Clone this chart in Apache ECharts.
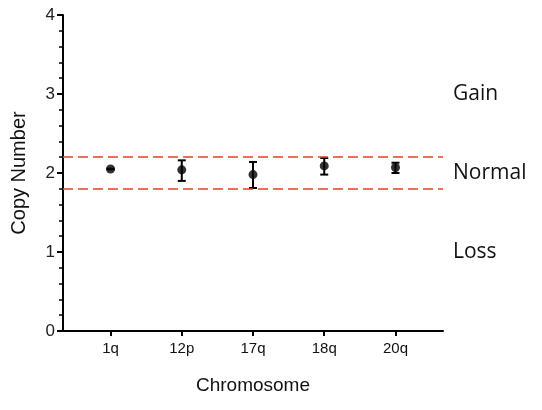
<!DOCTYPE html>
<html>
<head>
<meta charset="UTF-8">
<title>Copy Number</title>
<style>
  html, body { margin: 0; padding: 0; background: #fff; }
  #chart { width: 542px; height: 410px; }
</style>
</head>
<body>
<div id="chart"></div>
<script src="https://cdn.jsdelivr.net/npm/echarts/dist/echarts.min.js"></script>
<script>
var categories = ['1q', '12p', '17q', '18q', '20q'];
var means = [2.05, 2.04, 1.98, 2.09, 2.07];
var lowers = [2.045, 1.90, 1.81, 1.98, 2.00];
var uppers = [2.055, 2.16, 2.14, 2.19, 2.13];
var thresholds = [2.2, 1.8];
var zoneLabels = { 1: 'Loss', 2: 'Normal', 3: 'Gain' };
var catIndex = [0, 1, 2, 3, 4];

var chart = echarts.init(document.getElementById('chart'));

var pts = means.map(function (v, i) { return [i, v]; });
var bars = means.map(function (v, i) { return [i, lowers[i], uppers[i]]; });

var option = {
  animation: false,
  grid: { left: 63, right: 99, top: 15, bottom: 79 },
  xAxis: {
    type: 'value',
    min: -0.667,
    max: 4.667,
    name: 'Chromosome',
    nameLocation: 'middle',
    nameGap: 45,
    nameTextStyle: { fontFamily: 'Liberation Sans', fontSize: 19, color: '#111' },
    splitLine: { show: false },
    axisLine: { onZero: false, lineStyle: { color: '#000', width: 2 } },
    axisTick: { customValues: catIndex, length: 5, lineStyle: { color: '#000', width: 2 } },
    axisLabel: {
      customValues: catIndex,
      formatter: function (v) { return categories[Math.round(v)]; },
      fontFamily: 'Liberation Sans', fontSize: 15, color: '#111', margin: 10
    }
  },
  yAxis: [{
    type: 'value',
    min: 0, max: 4, interval: 1,
    name: 'Copy Number',
    nameLocation: 'middle',
    nameGap: 34,
    nameRotate: 90,
    nameTextStyle: { fontFamily: 'Liberation Sans', fontSize: 20, color: '#111' },
    splitLine: { show: false },
    axisLine: { show: true, onZero: false, lineStyle: { color: '#000', width: 2 } },
    axisTick: { length: 6, lineStyle: { color: '#000', width: 2 } },
    minorTick: { show: true, splitNumber: 5, length: 4, lineStyle: { color: '#000', width: 1.5 } },
    axisLabel: { fontFamily: 'Liberation Sans', fontSize: 17, color: '#222', margin: 8 }
  }, {
    type: 'value',
    position: 'right',
    min: 0, max: 4, interval: 1,
    splitLine: { show: false },
    axisLine: { show: false },
    axisTick: { show: false },
    axisLabel: {
      formatter: function (v) { return zoneLabels[v] || ''; },
      fontFamily: 'Open Sans', fontSize: 21, color: '#111', margin: 10
    }
  }],
  series: [{
    type: 'custom',
    renderItem: function (params, api) {
      var x = api.value(0);
      var lo = api.coord([x, api.value(1)]);
      var hi = api.coord([x, api.value(2)]);
      var hw = 4;
      var st = { stroke: '#000', lineWidth: 2 };
      return {
        type: 'group',
        children: [
          { type: 'line', shape: { x1: lo[0], y1: lo[1], x2: hi[0], y2: hi[1] }, style: st },
          { type: 'line', shape: { x1: lo[0] - hw, y1: lo[1], x2: lo[0] + hw, y2: lo[1] }, style: st },
          { type: 'line', shape: { x1: hi[0] - hw, y1: hi[1], x2: hi[0] + hw, y2: hi[1] }, style: st }
        ]
      };
    },
    encode: { x: 0, y: [1, 2] },
    data: bars,
    z: 3
  }, {
    type: 'scatter',
    data: pts,
    symbol: 'circle',
    symbolSize: 9,
    itemStyle: { color: '#000' },
    z: 4,
    markLine: {
      silent: true,
      symbol: 'none',
      label: { show: false },
      lineStyle: { color: '#ee3e1e', type: [10, 5], width: 1.5 },
      data: thresholds.map(function (t) { return { yAxis: t }; })
    }
  }]
};

chart.setOption(option);
</script>
</body>
</html>
